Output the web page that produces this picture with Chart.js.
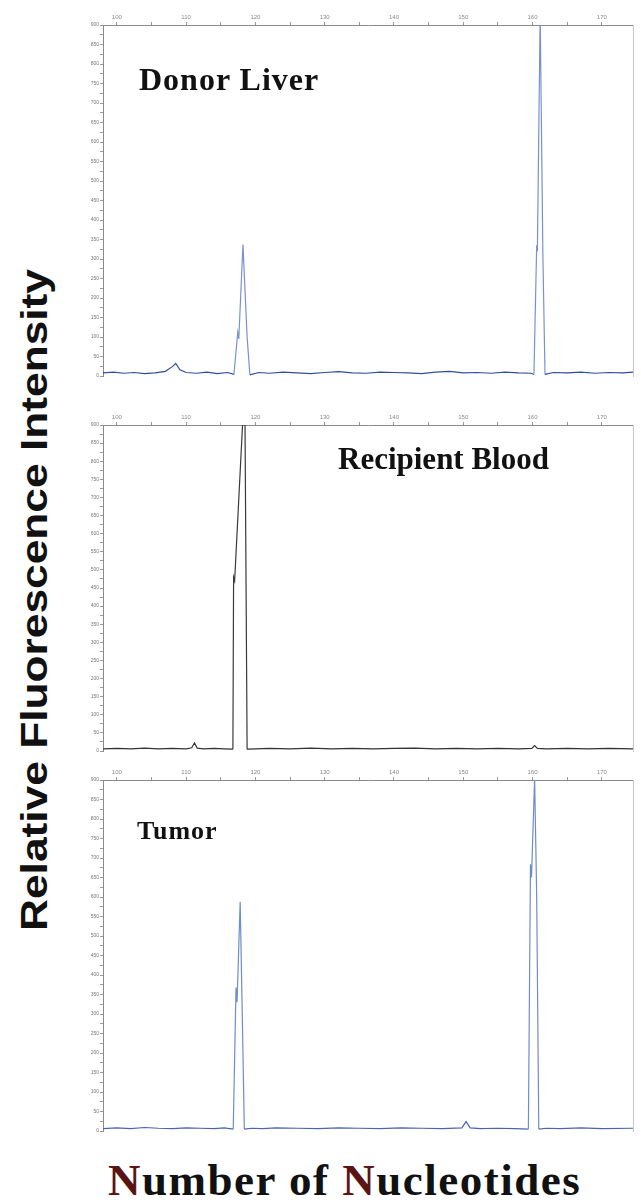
<!DOCTYPE html>
<html>
<head>
<meta charset="utf-8">
<script src="https://cdn.jsdelivr.net/npm/chart.js@4"></script>
<style>
  body { margin: 0; background: #fff; }
  #wrap { position: relative; width: 641px; height: 1202px; overflow: hidden; background: #fff; }
  canvas { position: absolute; left: 80px; }
  .lbl { position: absolute; font-family: "Liberation Serif", serif; font-weight: bold; color: #111; line-height: 1; white-space: nowrap; }
  #ytitle { position: absolute; font-family: "Liberation Sans", Arial, sans-serif; font-weight: bold; font-size: 36px; line-height: 1;
            color: #111; white-space: nowrap; left: 35px; top: 600px; transform: translate(-50%, -50%) rotate(-90deg) scaleX(1.23); }
  #xtitle { position: absolute; font-family: "Liberation Serif", serif; font-weight: bold; font-size: 45px; line-height: 1;
            color: #111; white-space: nowrap; left: 108px; top: 1158px; letter-spacing: 1.5px; }
  .redN { color: #5a1414; }
</style>
</head>
<body>
<div id="wrap">
  <canvas id="c1" width="561" height="375" style="top:5px"></canvas>
  <canvas id="c2" width="561" height="350" style="top:405px"></canvas>
  <canvas id="c3" width="561" height="375" style="top:760px"></canvas>

  <div class="lbl" style="left:139px; top:63px; font-size:32px; letter-spacing:1px">Donor Liver</div>
  <div class="lbl" style="left:338px; top:443px; font-size:31px">Recipient Blood</div>
  <div class="lbl" style="left:137px; top:818px; font-size:26px; letter-spacing:1px">Tumor</div>

  <div id="ytitle">Relative Fluorescence Intensity</div>
  <div id="xtitle"><span class="redN">N</span>umber of <span class="redN">N</span>ucleotides</div>
</div>

<script>
// ----- shared axis settings -----
const xMin = 98;
const xMax = 174.5;
const yMin = 0;
const yMax = 900;

// ----- Donor Liver (blue trace) -----
const donorX = [98, 99.5, 101, 102.5, 104, 105.5, 107, 108, 108.5, 109.1, 110, 111.5, 113, 114.5, 116, 116.9,
  117.45, 117.6, 118.2, 118.8, 119.2, 120.5, 122, 124, 126, 128, 130, 132, 134, 136, 138, 140, 142, 144,
  146, 148, 150, 152, 154, 156, 158, 159.8, 160.2, 160.6, 160.7, 161.1, 161.5, 161.8, 163, 165, 167, 169,
  171, 173, 174.5];
const donorY = [8, 10, 7, 9, 6, 8, 12, 24, 32, 16, 9, 7, 10, 6, 9, 4,
  112, 95, 337, 100, 3, 9, 7, 10, 8, 6, 9, 11, 8, 7, 10, 9, 8, 6,
  10, 12, 8, 9, 7, 10, 8, 7, 4, 335, 320, 930, 300, 4, 9, 8, 10, 7,
  9, 8, 10];

// ----- Recipient Blood (dark trace) -----
const bloodX = [98, 100, 102, 104, 106, 108, 110, 110.8, 111.2, 111.6, 112.5, 114, 115.5, 116.75, 116.85,
  117.0, 118.3, 118.5, 118.8, 120, 122, 125, 128, 131, 134, 137, 140, 143, 146, 149, 152, 155, 158,
  159.9, 160.3, 160.7, 162, 165, 168, 171, 174.5];
const bloodY = [6, 7, 6, 8, 6, 7, 6, 9, 22, 8, 6, 7, 6, 5, 480,
  470, 960, 900, 5, 6, 7, 6, 8, 6, 7, 6, 7, 8, 6, 7, 6, 7, 6,
  7, 15, 7, 6, 7, 6, 7, 6];

// ----- Tumor (blue trace) -----
const tumorX = [98, 100, 102, 104, 106, 108, 110, 112, 114, 115.5, 116.8, 117.2, 117.35, 117.8, 118.1, 118.4,
  119.5, 121, 123, 126, 129, 132, 135, 138, 141, 144, 147, 149.8, 150.4, 151, 152.5, 155, 157.5,
  159.4, 159.7, 159.85, 160.3, 160.6, 160.9, 162, 164, 167, 170, 174.5];
const tumorY = [6, 8, 6, 9, 7, 6, 8, 7, 6, 8, 5, 368, 330, 588, 300, 5,
  7, 6, 8, 7, 6, 8, 7, 6, 8, 7, 6, 8, 24, 8, 6, 7, 6,
  5, 684, 650, 905, 600, 5, 7, 6, 8, 6, 7];

function toPoints(xs, ys) {
  return xs.map((x, i) => ({ x: x, y: ys[i] }));
}

// baseline drawn darker, tall peaks lighter (like the scanned trace)
function makePanel(id, xs, ys, baseColor, peakColor) {
  const ctx = document.getElementById(id).getContext("2d");
  return new Chart(ctx, {
    type: "line",
    data: {
      datasets: [{
        data: toPoints(xs, ys),
        borderColor: baseColor,
        borderWidth: 1.2,
        pointRadius: 0,
        tension: 0,
        fill: false,
        segment: {
          borderColor: (c) => (Math.max(c.p0.parsed.y, c.p1.parsed.y) > 60 ? peakColor : baseColor),
        },
      }],
    },
    options: {
      responsive: false,
      animation: false,
      devicePixelRatio: 1,
      layout: { padding: { left: 0, right: 8, top: 0, bottom: 0 } },
      plugins: { legend: { display: false }, tooltip: { enabled: false } },
      scales: {
        x: {
          type: "linear", position: "top", min: xMin, max: xMax,
          afterBuildTicks: (s) => {
            const t = [];
            for (let v = 100; v <= 170; v += 5) t.push({ value: v });
            s.ticks = t;
          },
          ticks: { autoSkip: false, maxRotation: 0, padding: 1, color: "#888", font: { size: 6 },
            callback: (v) => (v % 10 === 0 ? v : "") },
          grid: { drawOnChartArea: false, tickLength: 3, color: "#999" },
          border: { color: "#8a8a8a" },
          afterFit: (s) => { s.height = 20; },
        },
        y: {
          min: yMin, max: yMax,
          ticks: { stepSize: 25, autoSkip: false, padding: 1, color: "#777", font: { size: 5 },
            callback: (v) => (v % 50 === 0 ? v : "") },
          grid: { drawOnChartArea: false, tickLength: 3, color: "#999" },
          border: { color: "#8a8a8a" },
          afterFit: (s) => { s.width = 23; },
        },
        y2: {
          position: "right", min: yMin, max: yMax,
          ticks: { display: false },
          grid: { display: false },
          border: { color: "#c8c8c8" },
          afterFit: (s) => { s.width = 0; },
        },
      },
    },
  });
}

makePanel("c1", donorX, donorY, "#2f4f9f", "#7892d0");
makePanel("c2", bloodX, bloodY, "#333333", "#3a3a3a");
makePanel("c3", tumorX, tumorY, "#4a64b0", "#6f8ccc");
</script>
</body>
</html>
